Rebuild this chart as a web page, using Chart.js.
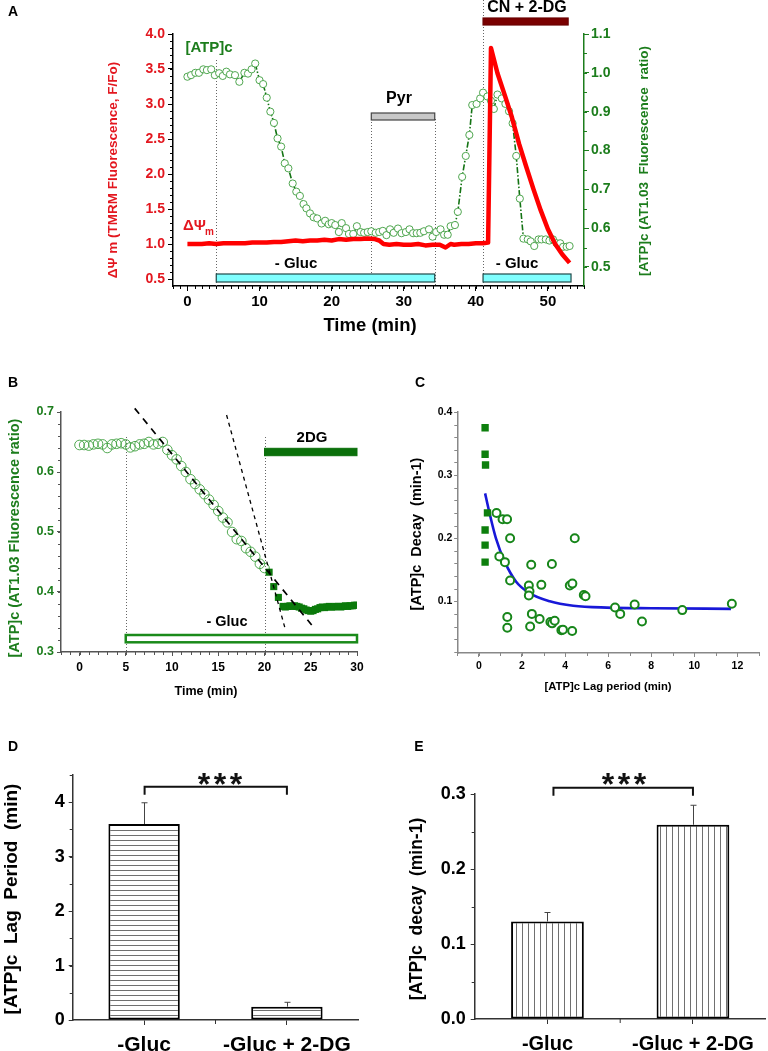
<!DOCTYPE html>
<html>
<head>
<meta charset="utf-8">
<title>[ATP]c and mitochondrial potential</title>
<script src="https://cdn.jsdelivr.net/npm/chart.js@4.4.1/dist/chart.umd.min.js"></script>
<style>
  body { margin: 0; background: #fff; }
  #page { position: relative; width: 768px; height: 1051px; overflow: hidden; }
  canvas { position: absolute; }
</style>
</head>
<body>
<div id="page">
  <canvas id="chartA" width="768" height="345" style="left:0;top:0"></canvas>
  <canvas id="chartB" width="384" height="360" style="left:0;top:345px"></canvas>
  <canvas id="chartC" width="384" height="360" style="left:384px;top:345px"></canvas>
  <canvas id="chartD" width="384" height="346" style="left:0;top:705px"></canvas>
  <canvas id="chartE" width="384" height="346" style="left:384px;top:705px"></canvas>
</div>
<script>
// ---- Panel A: [ATP]c ratio and TMRM (delta psi m) over time ----
const atpTimeA = [0, 0.5, 1.1, 1.6, 2.2, 2.7, 3.3, 3.8, 4.4, 4.9,
  5.4, 5.9, 6.6, 7.2, 7.9, 8.4, 8.9, 9.4, 10.0, 10.5,
  11.0, 11.5, 12.0, 12.5, 13.0, 13.5, 14.0, 14.6, 15.1, 15.6,
  16.1, 16.5, 17.0, 17.5, 18.0, 18.6, 19.1, 19.6, 20.0, 20.5,
  21.0, 21.4, 22.0, 22.4, 23.0, 23.5, 24.0, 24.5, 25.0, 25.5,
  26.1, 26.6, 27.1, 27.6, 28.1, 28.6, 29.2, 29.7, 30.3, 30.8,
  31.3, 31.8, 32.3, 32.8, 33.5, 34.0, 34.5, 35.1, 35.6, 36.1,
  36.5, 37.1, 37.5, 38.1, 38.6, 39.1, 39.5, 40.1, 40.6, 41.0,
  41.6, 42.1, 42.5, 43.0, 43.6, 44.1, 44.6, 45.1, 45.6, 46.1,
  46.6, 47.2, 47.6, 48.1, 48.7, 49.1, 49.7, 50.2, 50.7, 51.2,
  51.7, 52.1, 52.6, 53.0];
const atpRatioA = [0.990, 0.994, 1.000, 1.000, 1.009, 1.007, 1.009, 0.994, 0.999, 0.992,
  1.003, 0.996, 0.994, 0.977, 1.000, 0.998, 1.009, 1.024, 0.981, 0.971,
  0.936, 0.900, 0.871, 0.831, 0.810, 0.767, 0.754, 0.715, 0.694, 0.683,
  0.662, 0.651, 0.638, 0.628, 0.625, 0.612, 0.619, 0.610, 0.613, 0.608,
  0.590, 0.613, 0.600, 0.585, 0.585, 0.605, 0.590, 0.588, 0.590, 0.592,
  0.588, 0.590, 0.593, 0.582, 0.597, 0.588, 0.599, 0.587, 0.590, 0.597,
  0.587, 0.587, 0.588, 0.592, 0.597, 0.578, 0.590, 0.597, 0.583, 0.583,
  0.605, 0.608, 0.642, 0.732, 0.786, 0.840, 0.917, 0.920, 0.934, 0.949,
  0.939, 0.928, 0.907, 0.944, 0.934, 0.920, 0.901, 0.870, 0.786, 0.676,
  0.573, 0.571, 0.566, 0.554, 0.571, 0.571, 0.571, 0.568, 0.571, 0.561,
  0.561, 0.552, 0.552, 0.554];
const psiTimeA = [0, 1, 2, 3, 4, 5, 6, 7, 8, 9, 10, 11, 12, 13, 14, 15, 16, 17, 18, 19,
  20, 21, 22, 23, 24, 25, 26, 26.6, 27.2, 28, 29, 30, 31, 32, 33, 34, 35, 35.8, 36.5,
  37, 38, 39, 40, 41, 41.7, 42.1, 43, 44, 45, 46, 47, 48, 49, 50, 51, 52, 53];
const psiValueA = [1.00, 1.00, 1.00, 1.01, 1.00, 1.01, 1.01, 1.01, 1.01, 1.02, 1.02, 1.02, 1.03, 1.03, 1.04, 1.05, 1.04, 1.05, 1.05, 1.06,
  1.05, 1.07, 1.06, 1.07, 1.07, 1.08, 1.07, 1.05, 1.00, 0.99, 1.00, 0.99, 0.99, 1.00, 0.98, 0.99, 0.99, 0.95, 1.00,
  0.99, 1.00, 1.00, 1.01, 1.01, 1.02, 3.80, 3.44, 3.13, 2.81, 2.43, 2.10, 1.78, 1.48, 1.21, 1.00, 0.85, 0.73];
const eventTimesA = [4, 25.5, 34.3, 41];
const glucOffA = [[4, 34.3], [41, 53.2]];
const pyrA = [25.5, 34.3];
const cnA = [41, 52.8];
const timeTicksA = [0, 10, 20, 30, 40, 50];
const psiTicksA = [0.5, 1.0, 1.5, 2.0, 2.5, 3.0, 3.5, 4.0];
const atpTicksA = [0.5, 0.6, 0.7, 0.8, 0.9, 1.0, 1.1];

// ---- Panel B: glucose removal, then 2DG ----
const circTimeB = [0, 0.5, 1, 1.5, 2, 2.5, 3, 3.5, 4, 4.5, 5, 5.5, 6, 6.5, 7, 7.5, 8, 8.5, 9,
  9.5, 10, 10.5, 11, 11.5, 12, 12.5, 13, 13.5, 14, 14.5, 15, 15.5, 16, 16.5, 17, 17.5, 18, 18.5, 19, 19.5, 20];
const circRatioB = [0.645, 0.645, 0.644, 0.646, 0.647, 0.646, 0.640, 0.646, 0.647, 0.648, 0.646, 0.641, 0.643, 0.646, 0.647, 0.650, 0.646, 0.647, 0.650,
  0.637, 0.628, 0.621, 0.610, 0.600, 0.588, 0.580, 0.571, 0.563, 0.554, 0.545, 0.535, 0.524, 0.516, 0.500, 0.488, 0.485, 0.473, 0.467, 0.459, 0.447, 0.440];
const sqTimeB = [20.5, 21, 21.5, 22, 22.25, 22.5, 22.75, 23, 23.25, 23.5, 23.75, 24, 24.25, 24.5, 24.75,
  25, 25.25, 25.5, 25.75, 26, 26.25, 26.5, 26.75, 27, 27.25, 27.5, 27.75, 28, 28.25, 28.5, 28.75, 29, 29.25, 29.5, 29.75, 30];
const sqRatioB = [0.433, 0.409, 0.391, 0.376, 0.375, 0.376, 0.377, 0.376, 0.377, 0.376, 0.375, 0.373, 0.372, 0.370, 0.369,
  0.368, 0.369, 0.371, 0.372, 0.374, 0.375, 0.374, 0.375, 0.376, 0.375, 0.375, 0.376, 0.376, 0.375, 0.376, 0.377, 0.376, 0.377, 0.377, 0.378, 0.378];
const slowFitTimeB = [5.97, 25.1];
const slowFitRatioB = [0.706, 0.345];
const fastFitTimeB = [15.9, 22.3];
const fastFitRatioB = [0.695, 0.335];
const eventTimesB = [5, 20];
const timeTicksB = [0, 5, 10, 15, 20, 25, 30];
const ratioTicksB = [0.3, 0.4, 0.5, 0.6, 0.7];

// ---- Panel C: decay rate vs lag period ----
const lagSqC = [0.29, 0.29, 0.31, 0.40, 0.29, 0.29, 0.29];
const decaySqC = [0.375, 0.333, 0.316, 0.240, 0.213, 0.189, 0.162];
const lagCircC = [0.82, 1.10, 1.31, 1.45, 0.95, 1.21, 1.45, 2.43, 3.39, 4.45, 2.32, 2.90, 4.22, 4.34, 2.35, 2.32, 4.87, 4.95,
  6.32, 7.23, 9.44, 11.74, 1.32, 1.32, 2.46, 2.38, 2.82, 3.32, 3.40, 3.52, 3.83, 3.90, 4.33, 6.56, 7.57];
const decayCircC = [0.240, 0.230, 0.230, 0.200, 0.171, 0.162, 0.133, 0.158, 0.159, 0.200, 0.125, 0.126, 0.125, 0.128, 0.116, 0.109, 0.110, 0.108,
  0.090, 0.095, 0.086, 0.096, 0.075, 0.058, 0.080, 0.060, 0.072, 0.067, 0.065, 0.069, 0.054, 0.055, 0.053, 0.080, 0.068];
const fitLagC = [0.29, 0.48, 0.79, 1.21, 1.73, 2.35, 3.29, 4.38, 5.94, 8.0, 11.7];
const fitDecayC = [0.271, 0.242, 0.200, 0.162, 0.131, 0.113, 0.100, 0.093, 0.090, 0.089, 0.088];
const lagTicksC = [0, 2, 4, 6, 8, 10, 12];
const decayTicksC = [0.1, 0.2, 0.3, 0.4];

// ---- Panels D and E: group means ----
const conditions = ['-Gluc', '-Gluc + 2-DG'];
const lagMean = [3.60, 0.245];
const lagSem = [0.39, 0.08];
const decayMean = [0.130, 0.259];
const decaySem = [0.012, 0.026];
const lagTicks = [0, 1, 2, 3, 4];
const decayTicks = [0.0, 0.1, 0.2, 0.3];

const FONT = 'Arial, "Liberation Sans", Helvetica, sans-serif';
const RED = '#e3171f';
const GREEN = '#1c7d1c';

Chart.defaults.font.family = FONT;
Chart.defaults.animation = false;
Chart.defaults.plugins.legend.display = false;
Chart.defaults.plugins.tooltip.enabled = false;

const bold = size => ({family: FONT, size: size, weight: 'bold'});
const xy = (xs, ys) => xs.map((x, i) => ({x: x, y: ys[i]}));

function range(a, b, step) {
  const out = [];
  for (let v = a; v <= b + 1e-9; v += step) out.push(+v.toFixed(4));
  return out;
}

// linear axis with a fixed box size, so the plot area lands where the figure has it
function axis(o) {
  return {
    type: 'linear', position: o.position, min: o.min, max: o.max,
    afterFit: s => { if (s.isHorizontal()) s.height = o.size; else s.width = o.size; },
    afterBuildTicks: s => { s.ticks = o.ticks.map(v => ({value: v})); },
    ticks: {font: bold(o.font), color: o.color, padding: o.pad, callback: o.fmt || (v => v)},
    grid: {drawOnChartArea: false, tickLength: o.tick, color: o.line, lineWidth: 1},
    border: {color: o.line, width: o.width || 1.5}
  };
}

function label(ctx, s, x, y, size, color, rot, align) {
  ctx.save();
  ctx.font = 'bold ' + size + 'px ' + FONT;
  ctx.fillStyle = color;
  ctx.textAlign = align || 'center';
  ctx.textBaseline = 'middle';
  ctx.translate(x, y);
  if (rot) ctx.rotate(rot);
  ctx.fillText(s, 0, 0);
  ctx.restore();
}

function seg(ctx, x1, y1, x2, y2) {
  ctx.beginPath();
  ctx.moveTo(x1, y1);
  ctx.lineTo(x2, y2);
  ctx.stroke();
}

function box(ctx, x1, y1, x2, y2, fill, stroke, lw) {
  ctx.save();
  ctx.fillStyle = fill;
  ctx.fillRect(x1, y1, x2 - x1, y2 - y1);
  ctx.strokeStyle = stroke;
  ctx.lineWidth = lw || 1.2;
  ctx.strokeRect(x1, y1, x2 - x1, y2 - y1);
  ctx.restore();
}

function minorTicks(ctx, scale, values, len, color) {
  ctx.save();
  ctx.strokeStyle = color;
  ctx.lineWidth = 1;
  ctx.beginPath();
  values.forEach(v => {
    const p = Math.round(scale.getPixelForValue(v)) + 0.5;
    if (scale.isHorizontal()) { ctx.moveTo(p, scale.top); ctx.lineTo(p, scale.top + len); }
    else if (scale.position === 'left') { ctx.moveTo(scale.right, p); ctx.lineTo(scale.right - len, p); }
    else { ctx.moveTo(scale.left, p); ctx.lineTo(scale.left + len, p); }
  });
  ctx.stroke();
  ctx.restore();
}

function dotted(ctx, x, y0, y1) {
  ctx.save();
  ctx.strokeStyle = '#666';
  ctx.lineWidth = 1;
  ctx.setLineDash([1, 2]);
  const px = Math.round(x) + 0.5;
  seg(ctx, px, y0, px, y1);
  ctx.restore();
}

// ---------------- A ----------------
const decorA = {
  id: 'decorA',
  beforeDatasetsDraw(chart) {
    const {ctx, chartArea, scales: {x}} = chart;
    const tops = [60, 119, 119, 0];
    eventTimesA.forEach((t, i) => dotted(ctx, x.getPixelForValue(t), tops[i], chartArea.bottom));
  },
  afterDraw(chart) {
    const {ctx, scales: {x, yL, yR}} = chart;
    minorTicks(ctx, x, range(-2, 55, 1), 3, '#000');
    minorTicks(ctx, yL, range(0.5, 4, 0.1), 3, '#000');
    minorTicks(ctx, yR, range(0.5, 1.1, 0.05), 3, GREEN);
    glucOffA.forEach(g => box(ctx, x.getPixelForValue(g[0]), 274, x.getPixelForValue(g[1]), 282, '#80ffff', '#1f4a4a'));
    box(ctx, x.getPixelForValue(pyrA[0]), 113, x.getPixelForValue(pyrA[1]), 120, '#c8c8c8', '#444');
    box(ctx, x.getPixelForValue(cnA[0]), 18, x.getPixelForValue(cnA[1]), 25, '#7a0000', '#6a0000');

    label(ctx, 'A', 13, 12, 14, '#000');
    label(ctx, '[ATP]c', 209, 48, 15, GREEN);
    label(ctx, '\u0394\u03a8', 183, 226, 15, RED, 0, 'left');
    label(ctx, 'm', 205, 232, 10, RED, 0, 'left');
    label(ctx, '- Gluc', 296, 264, 15, '#000');
    label(ctx, '- Gluc', 517, 264, 15, '#000');
    label(ctx, 'Pyr', 399, 99, 16, '#000');
    label(ctx, 'CN + 2-DG', 527, 8, 16, '#000');
    label(ctx, '\u0394\u03a8 m (TMRM Fluorescence, F/Fo)', 113, 170, 13.5, RED, -Math.PI / 2);
    label(ctx, '[ATP]c (AT1.03  Fluorescence  ratio)', 644, 161, 13.5, GREEN, -Math.PI / 2);
    label(ctx, 'Time (min)', 370, 326, 18.5, '#000');
  }
};

new Chart(document.getElementById('chartA'), {
  type: 'line',
  data: {
    datasets: [
      {data: xy(psiTimeA, psiValueA), yAxisID: 'yL', borderColor: '#ff0000', borderWidth: 4.5,
        pointRadius: 0, borderJoinStyle: 'round', tension: 0},
      {data: xy(atpTimeA, atpRatioA), yAxisID: 'yR', borderColor: '#137313', borderWidth: 1.6,
        borderDash: [6, 2, 1.5, 2], pointRadius: 3.6, pointBorderWidth: 0.9,
        pointBorderColor: '#3d9d3d', pointBackgroundColor: '#fff'}
    ]
  },
  options: {
    responsive: false,
    layout: {padding: {top: 34, left: 0, right: 0, bottom: 0}},
    scales: {
      x: axis({position: 'bottom', min: -2, max: 55, size: 59, ticks: timeTicksA, font: 15, color: '#000', pad: 2, tick: 5, line: '#000'}),
      yL: axis({position: 'left', min: 0.4, max: 4.0, size: 173, ticks: psiTicksA, font: 14, color: RED, pad: 3, tick: 5, line: '#000',
        fmt: v => v.toFixed(1)}),
      yR: axis({position: 'right', min: 0.451, max: 1.1, size: 184, ticks: atpTicksA, font: 14, color: GREEN, pad: 2, tick: 5, line: GREEN,
        fmt: v => v.toFixed(1)})
    }
  },
  plugins: [decorA]
});

// ---------------- B ----------------
const decorB = {
  id: 'decorB',
  beforeDatasetsDraw(chart) {
    const {ctx, chartArea, scales: {x}} = chart;
    eventTimesB.forEach(t => dotted(ctx, x.getPixelForValue(t), 92, chartArea.bottom));
  },
  afterDraw(chart) {
    const {ctx, scales: {x, y}} = chart;
    minorTicks(ctx, x, range(-2, 30, 1), 3, '#555');
    minorTicks(ctx, y, range(0.3, 0.7, 0.02), 3, '#555');
    box(ctx, x.getPixelForValue(20), 103.3, x.getPixelForValue(30), 110.7, '#0b700b', '#0b700b', 1);
    box(ctx, x.getPixelForValue(5), 290, x.getPixelForValue(30), 297.3, '#fff', '#1a8a1a', 2.5);
    label(ctx, 'B', 13, 38, 14, '#000');
    label(ctx, '2DG', 312, 93, 15, '#000');
    label(ctx, '- Gluc', 227, 277, 14.5, '#000');
    label(ctx, '[ATP]c (AT1.03 Fluorescence ratio)', 15, 193, 14.5, GREEN, -Math.PI / 2);
    label(ctx, 'Time (min)', 206, 347, 12.5, '#000');
  }
};

new Chart(document.getElementById('chartB'), {
  type: 'scatter',
  data: {
    datasets: [
      {data: xy(slowFitTimeB, slowFitRatioB), showLine: true, pointRadius: 0, borderColor: '#000',
        borderWidth: 1.7, borderDash: [7, 6], clip: false},
      {data: xy(fastFitTimeB, fastFitRatioB), showLine: true, pointRadius: 0, borderColor: '#000',
        borderWidth: 1.3, borderDash: [4, 4], clip: false},
      {data: xy(sqTimeB, sqRatioB), pointStyle: 'rect', pointRadius: 5,
        pointBackgroundColor: '#0b7a0b', pointBorderColor: '#0b7a0b', pointBorderWidth: 0},
      {data: xy(circTimeB, circRatioB), pointRadius: 4.8, pointBorderWidth: 0.9,
        pointBorderColor: '#40a040', pointBackgroundColor: 'rgba(255,255,255,0)'}
    ]
  },
  options: {
    responsive: false,
    layout: {padding: {top: 67, left: 0, right: 27, bottom: 0}},
    scales: {
      x: axis({position: 'bottom', min: -2, max: 30, size: 53, ticks: timeTicksB, font: 12, color: '#000', pad: 4, tick: 4, line: '#555'}),
      y: axis({position: 'left', min: 0.3, max: 0.7, size: 61, ticks: ratioTicksB, font: 12.5, color: GREEN, pad: 3, tick: 4, line: '#555',
        fmt: v => v.toFixed(1)})
    }
  },
  plugins: [decorB]
});

// ---------------- C ----------------
const decorC = {
  id: 'decorC',
  afterDraw(chart) {
    const {ctx, scales: {x, y}} = chart;
    minorTicks(ctx, x, range(-1, 13, 1), 3, '#888');
    minorTicks(ctx, y, range(0.02, 0.4, 0.02), 3, '#888');
    label(ctx, 'C', 36, 38, 14, '#000');
    label(ctx, '[ATP]c  Decay  (min-1)', 33, 189, 14.5, '#000', -Math.PI / 2);
    label(ctx, '[ATP]c Lag period (min)', 224, 342, 11.3, '#000');
  }
};

new Chart(document.getElementById('chartC'), {
  type: 'scatter',
  data: {
    datasets: [
      {data: xy(lagSqC, decaySqC), pointStyle: 'rect', pointRadius: 5.2,
        pointBackgroundColor: '#0d7f0d', pointBorderColor: '#0d7f0d', pointBorderWidth: 0},
      {data: xy(lagCircC, decayCircC), pointRadius: 4, pointBorderWidth: 2,
        pointBorderColor: '#17861a', pointBackgroundColor: '#fff'},
      {data: xy(fitLagC, fitDecayC), showLine: true, pointRadius: 0, borderColor: '#1818d8',
        borderWidth: 2.6, cubicInterpolationMode: 'monotone'}
    ]
  },
  options: {
    responsive: false,
    layout: {padding: {top: 67, left: 0, right: 9, bottom: 0}},
    scales: {
      x: axis({position: 'bottom', min: -1, max: 13, size: 52, ticks: lagTicksC, font: 10.5, color: '#000', pad: 3, tick: 4, line: '#888'}),
      y: axis({position: 'left', min: 0.018, max: 0.4, size: 73.3, ticks: decayTicksC, font: 10.5, color: '#000', pad: 2, tick: 3, line: '#888',
        fmt: v => v.toFixed(1)})
    }
  },
  plugins: [decorC]
});

// ---------------- D and E ----------------
function hatch(canvasId, vertical, gap) {
  const c = document.createElement('canvas');
  c.width = vertical ? gap : 8;
  c.height = vertical ? 8 : gap;
  const g = c.getContext('2d');
  g.fillStyle = '#fff';
  g.fillRect(0, 0, c.width, c.height);
  g.fillStyle = '#707070';
  if (vertical) g.fillRect(0, 0, 1, c.height); else g.fillRect(0, 0, c.width, 1);
  return document.getElementById(canvasId).getContext('2d').createPattern(c, 'repeat');
}

function barDecor(id, sem, means, minorStep, yMax, cfg) {
  return {
    id: id,
    afterDatasetsDraw(chart) {
      const {ctx, scales: {y}} = chart;
      const meta = chart.getDatasetMeta(0);
      ctx.save();
      ctx.strokeStyle = '#444';
      ctx.lineWidth = 1;
      meta.data.forEach((bar, i) => {
        const top = y.getPixelForValue(means[i] + sem[i]);
        const bx = Math.round(bar.x) + 0.5;
        seg(ctx, bx, bar.y, bx, top);
        seg(ctx, bx - 3, top, bx + 3, top);
      });
      ctx.restore();
    },
    afterDraw(chart) {
      const {ctx, scales: {x, y}} = chart;
      minorTicks(ctx, y, range(0, yMax, minorStep), 3, '#333');
      const c0 = x.getPixelForTick(0), c1 = x.getPixelForTick(1);
      ctx.save();
      ctx.strokeStyle = '#333';
      ctx.beginPath();
      ctx.moveTo((c0 + c1) / 2, y.bottom);
      ctx.lineTo((c0 + c1) / 2, y.bottom + 4);
      ctx.stroke();
      // significance bracket
      ctx.strokeStyle = '#111';
      ctx.lineWidth = 2;
      const l = c0 + cfg.bracketOffset, r = c1;
      ctx.beginPath();
      ctx.moveTo(l, cfg.bracketY + 8);
      ctx.lineTo(l, cfg.bracketY);
      ctx.lineTo(r, cfg.bracketY);
      ctx.lineTo(r, cfg.bracketY + 8);
      ctx.stroke();
      ctx.font = 'bold 32px ' + FONT;
      ctx.fillStyle = '#111';
      ctx.textAlign = 'center';
      ctx.textBaseline = 'alphabetic';
      [-16, 0, 16].forEach(dx => ctx.fillText('*', cfg.starX + dx, cfg.starBase));
      ctx.restore();
      label(ctx, cfg.letter, cfg.letterX, 42, 14, '#000');
      label(ctx, cfg.title, cfg.titleX, cfg.titleY, cfg.titleSize, '#000', -Math.PI / 2);
    }
  };
}

function barChart(canvasId, means, sem, ticks, yMax, minorStep, hatchVertical, gap, layout, cfg) {
  return new Chart(document.getElementById(canvasId), {
    type: 'bar',
    data: {
      labels: conditions,
      datasets: [{
        data: means,
        backgroundColor: hatch(canvasId, hatchVertical, gap),
        borderColor: '#000', borderWidth: 2, borderSkipped: false,
        barPercentage: 0.5, categoryPercentage: 1
      }]
    },
    options: {
      responsive: false,
      layout: {padding: layout.padding},
      scales: {
        x: {
          type: 'category', offset: true,
          afterFit: s => { s.height = layout.xSize; },
          ticks: {font: bold(layout.xFont), color: '#000', padding: 8},
          grid: {drawOnChartArea: false, offset: false, tickLength: 5, color: '#333'},
          border: {color: '#333', width: 1.5}
        },
        y: axis({position: 'left', min: 0, max: yMax, size: layout.ySize, ticks: ticks, font: 18, color: '#000',
          pad: layout.yPad, tick: 4, line: '#333', fmt: layout.fmt})
      }
    },
    plugins: [barDecor(canvasId + 'Decor', sem, means, minorStep, yMax, cfg)]
  });
}

barChart('chartD', lagMean, lagSem, lagTicks, 4.5, 0.5, false, 5,
  {padding: {top: 70, left: 0, right: 25.7, bottom: 0}, xSize: 31, ySize: 72.7, yPad: 4, xFont: 21, fmt: v => v},
  {letter: 'D', letterX: 13, title: '[ATP]c  Lag  Period  (min)', titleX: 12, titleY: 194, titleSize: 19,
    bracketY: 81.7, bracketOffset: 0.5, starX: 220, starBase: 90});

barChart('chartE', decayMean, decaySem, decayTicks, 0.3, 0.05, true, 6,
  {padding: {top: 89, left: 0, right: 2.3, bottom: 0}, xSize: 32, ySize: 90.7, yPad: 5, xFont: 20, fmt: v => v.toFixed(1)},
  {letter: 'E', letterX: 35, title: '[ATP]c  decay  (min-1)', titleX: 33, titleY: 204, titleSize: 17.5,
    bracketY: 82.7, bracketOffset: 6, starX: 240, starBase: 90});
</script>
</body>
</html>
